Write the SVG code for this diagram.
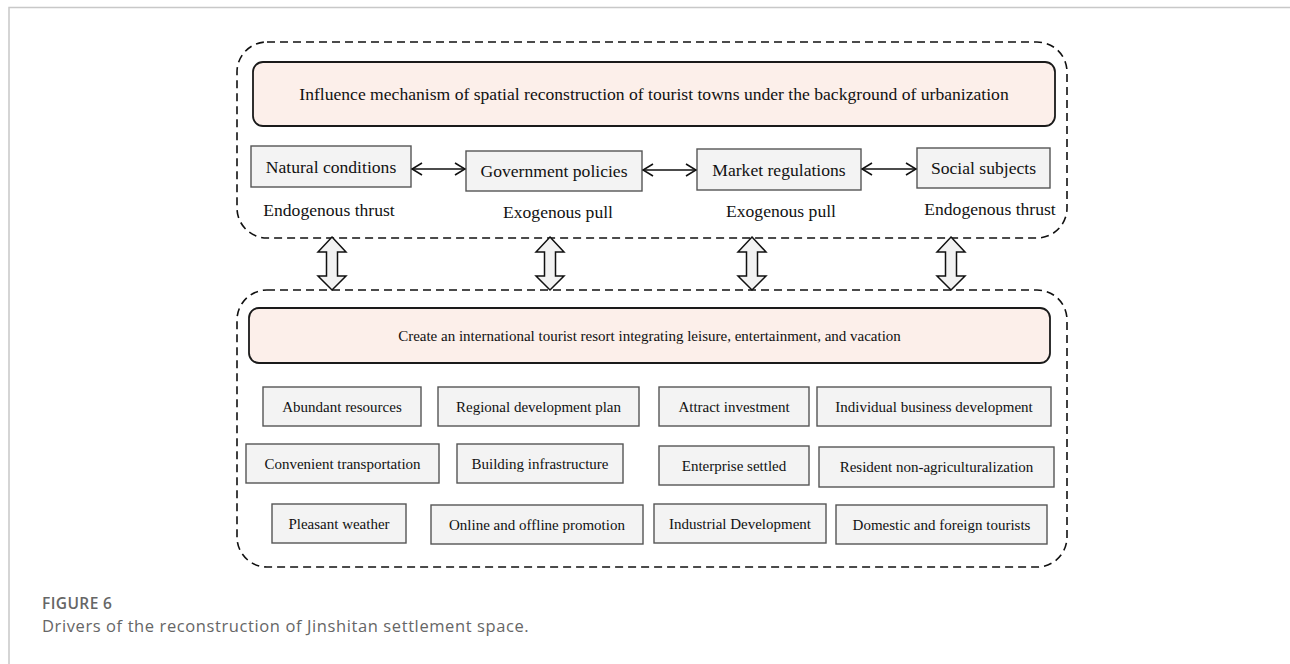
<svg xmlns="http://www.w3.org/2000/svg" width="1290" height="664" viewBox="0 0 1290 664">
<defs>
<style>
.frame{fill:none;stroke:#c8c8c8;stroke-width:1.5}
.dash{fill:none;stroke:#111;stroke-width:1.6;stroke-dasharray:8 5}
.head{fill:#fcefea;stroke:#1a1a1a;stroke-width:1.8}
.box{fill:#f3f3f3;stroke:#555;stroke-width:1.4}
.t{font-family:"Liberation Serif","Times New Roman",serif;fill:#111;text-anchor:middle}
.t17{font-size:17.6px}
.t15{font-size:15px}
.con{fill:none;stroke:#111;stroke-width:1.6}
.blk{fill:#f2f2f2;stroke:#111;stroke-width:1.5;stroke-linejoin:miter}
.cap{font-family:"Open Sans","Liberation Sans",sans-serif;fill:#666}
</style>
<marker id="oa" viewBox="0 0 12 14" refX="11" refY="7" markerWidth="12" markerHeight="14" markerUnits="userSpaceOnUse" orient="auto-start-reverse">
<path d="M1,1 L11,7 L1,13" fill="none" stroke="#111" stroke-width="1.6"/>
</marker>
</defs>
<rect width="1290" height="664" fill="#fff"/>
<path class="frame" d="M9,664 V7.5 H1290"/>

<g id="top-group">
<rect class="dash" x="237" y="42" width="830" height="196" rx="30"/>
</g>
<g id="title-node">
<rect class="head" x="253" y="62" width="802" height="64" rx="10"/>
<text class="t t17" x="654" y="100">Influence mechanism of spatial reconstruction of tourist towns under the background of urbanization</text>
</g>
<g id="natural-conditions">
<rect class="box" x="251" y="146" width="160" height="41"/>
<text class="t t17" x="331" y="172.5">Natural conditions</text>
<text class="t t17" x="329" y="216">Endogenous thrust</text>
</g>
<g id="government-policies">
<rect class="box" x="466" y="151" width="176" height="40"/>
<text class="t t17" x="554" y="177">Government policies</text>
<text class="t t17" x="558" y="218">Exogenous pull</text>
</g>
<g id="market-regulations">
<rect class="box" x="697" y="149" width="164" height="41"/>
<text class="t t17" x="779" y="175.5">Market regulations</text>
<text class="t t17" x="781" y="217">Exogenous pull</text>
</g>
<g id="social-subjects">
<rect class="box" x="917" y="148" width="133" height="40"/>
<text class="t t17" x="983.5" y="174">Social subjects</text>
<text class="t t17" x="990" y="215">Endogenous thrust</text>
</g>

<g id="bottom-group">
<rect class="dash" x="237" y="290" width="830" height="277" rx="30"/>
</g>
<g id="goal-node">
<rect class="head" x="249" y="308" width="801" height="55" rx="10"/>
<text class="t t15" x="649.5" y="341">Create an international tourist resort integrating leisure, entertainment, and vacation</text>
</g>
<g id="abundant-resources"><rect class="box" x="263" y="387" width="158" height="39"/><text class="t t15" x="342" y="411.5">Abundant resources</text></g>
<g id="regional-development-plan"><rect class="box" x="438" y="387" width="201" height="39"/><text class="t t15" x="538.5" y="411.5">Regional development plan</text></g>
<g id="attract-investment"><rect class="box" x="659" y="387" width="150" height="39"/><text class="t t15" x="734" y="411.5">Attract investment</text></g>
<g id="individual-business-development"><rect class="box" x="817" y="387" width="234" height="39"/><text class="t t15" x="934" y="411.5">Individual business development</text></g>
<g id="convenient-transportation"><rect class="box" x="246" y="444" width="193" height="39"/><text class="t t15" x="342.5" y="468.5">Convenient transportation</text></g>
<g id="building-infrastructure"><rect class="box" x="457" y="444" width="166" height="39"/><text class="t t15" x="540" y="468.5">Building infrastructure</text></g>
<g id="enterprise-settled"><rect class="box" x="659" y="446" width="150" height="39"/><text class="t t15" x="734" y="470.5">Enterprise settled</text></g>
<g id="resident-non-agriculturalization"><rect class="box" x="819" y="447" width="235" height="40"/><text class="t t15" x="936.5" y="472">Resident non-agriculturalization</text></g>
<g id="pleasant-weather"><rect class="box" x="272" y="504" width="134" height="39"/><text class="t t15" x="339" y="528.5">Pleasant weather</text></g>
<g id="online-offline-promotion"><rect class="box" x="431" y="505" width="212" height="39"/><text class="t t15" x="537" y="529.5">Online and offline promotion</text></g>
<g id="industrial-development"><rect class="box" x="654" y="504" width="172" height="39"/><text class="t t15" x="740" y="528.5">Industrial Development</text></g>
<g id="domestic-foreign-tourists"><rect class="box" x="836" y="505" width="211" height="39"/><text class="t t15" x="941.5" y="529.5">Domestic and foreign tourists</text></g>

<g id="connectors">
<line class="con" x1="412" y1="169" x2="465" y2="169" marker-start="url(#oa)" marker-end="url(#oa)"/>
<line class="con" x1="643" y1="170" x2="696" y2="170" marker-start="url(#oa)" marker-end="url(#oa)"/>
<line class="con" x1="862" y1="169" x2="916" y2="169" marker-start="url(#oa)" marker-end="url(#oa)"/>
<polygon class="blk" points="332,237 346,252 337.5,252 337.5,276 346,276 332,290 318,276 326.5,276 326.5,252 318,252"/>
<polygon class="blk" points="550,237 564,252 555.5,252 555.5,276 564,276 550,290 536,276 544.5,276 544.5,252 536,252"/>
<polygon class="blk" points="752,237 766,252 757.5,252 757.5,276 766,276 752,290 738,276 746.5,276 746.5,252 738,252"/>
<polygon class="blk" points="951,237 965,252 956.5,252 956.5,276 965,276 951,290 937,276 945.5,276 945.5,252 937,252"/>
</g>

<g id="caption">
<text class="cap" x="42" y="609" font-size="15.5" font-weight="600" letter-spacing="0.4">FIGURE 6</text>
<text class="cap" x="42" y="632" font-size="16.5" letter-spacing="0.6">Drivers of the reconstruction of Jinshitan settlement space.</text>
</g>
</svg>
